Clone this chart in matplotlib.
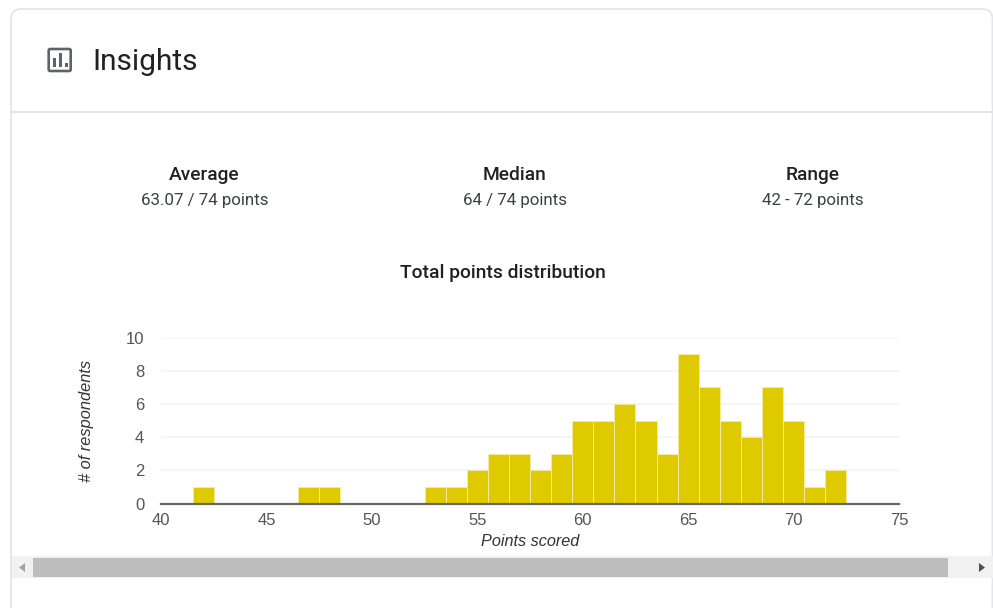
import matplotlib
matplotlib.use("Agg")
import matplotlib.pyplot as plt
from matplotlib.patches import FancyBboxPatch, Rectangle, Polygon

# histogram data
points = [42, 47, 48, 53, 54, 55, 56, 57, 58, 59, 60, 61, 62, 63, 64, 65, 66, 67, 68, 69, 70, 71, 72]
counts = [1, 1, 1, 1, 1, 2, 3, 3, 2, 3, 5, 5, 6, 5, 3, 9, 7, 5, 4, 7, 5, 1, 2]
x_ticks = [40, 45, 50, 55, 60, 65, 70, 75]
y_ticks = [0, 2, 4, 6, 8, 10]

stat_names = ["Average", "Median", "Range"]
stat_values = ["63.07 / 74 points", "64 / 74 points", "42 - 72 points"]
stat_x = [204.5, 515, 812.5]

W, H = 993, 608
fig = plt.figure(figsize=(W / 100, H / 100), dpi=100)

# page furniture, in pixel coordinates
bg = fig.add_axes([0, 0, 1, 1])
bg.set_xlim(0, W)
bg.set_ylim(H, 0)
bg.axis("off")

card = FancyBboxPatch((11, 9), 981.5, 640, boxstyle="round,pad=0,rounding_size=10",
                      fc="white", ec="#e4e5e8", lw=1.3, mutation_aspect=1)
bg.add_patch(card)
bg.plot([11, W], [112, 112], color="#e2e3e6", lw=1.3)

# insights icon
bg.add_patch(FancyBboxPatch((48.7, 49), 22, 22, boxstyle="round,pad=0,rounding_size=1.5",
                            fc="white", ec="#5f6368", lw=1.9))
for bx, bar_top in zip([52.5, 58.5, 65], [58, 53, 63]):
    bg.add_patch(Rectangle((bx, bar_top), 3, 67 - bar_top, fc="#5f6368", ec="none"))

bg.text(92, 61.5, "Insights", fontsize=21.5, family="Roboto", color="#202124",
        ha="left", va="center")

for name, val, x in zip(stat_names, stat_values, stat_x):
    bg.text(x, 175.5, name, fontsize=13.8, family="Roboto", weight="medium", color="#202124",
            ha="center", va="center")
    bg.text(x, 200.5, val, fontsize=12.2, family="Roboto", color="#3c4043",
            ha="center", va="center")
bg.text(502.5, 272.5, "Total points distribution", fontsize=13.9, family="Roboto",
        weight="medium", color="#202124", ha="center", va="center")

# scrollbar
bg.add_patch(Rectangle((12, 556), W - 12, 22, fc="#f1f1f1", ec="none"))
bg.add_patch(Rectangle((33, 558), 915, 19, fc="#bdbdbd", ec="none"))
bg.add_patch(Polygon([(19, 567.5), (25, 563), (25, 572)], fc="#a3a3a3", ec="none"))
bg.add_patch(Polygon([(985, 567.5), (979, 563), (979, 572)], fc="#505050", ec="none"))

# chart
left, right, top, bottom = 161, 899, 337.5, 503.5
ax = fig.add_axes([left / W, 1 - bottom / H, (right - left) / W, (bottom - top) / H])
ax.patch.set_alpha(0)
ax.bar(points, counts, width=1, color="#dfca00", edgecolor="#f3eaa0", linewidth=0.7, zorder=3)
ax.set_xlim(40, 75)
ax.set_ylim(0, 10)
ax.set_xticks(x_ticks)
ax.set_yticks(y_ticks)
ax.grid(axis="y", color="#f3f3f3", lw=1.2, zorder=0)
ax.set_axisbelow(True)
ax.tick_params(length=0, labelsize=12, labelcolor="#555555", pad=6.5)
ax.tick_params(axis="y", pad=12)
for lab in ax.get_xticklabels() + ax.get_yticklabels():
    lab.set_family("Liberation Sans")
for s in ["top", "left", "right"]:
    ax.spines[s].set_visible(False)
ax.spines["bottom"].set_color("#666666")
ax.spines["bottom"].set_linewidth(1.6)
ax.spines["bottom"].set_zorder(5)

bg.text(530, 541, "Points scored", fontsize=11.7, family="Liberation Sans", style="italic",
        color="#333333", ha="center", va="center")
bg.text(86.5, 421, "# of respondents", fontsize=11.8, family="Liberation Sans", style="italic",
        color="#333333", ha="center", va="center", rotation=90)

fig.savefig("out.png", dpi=100)
